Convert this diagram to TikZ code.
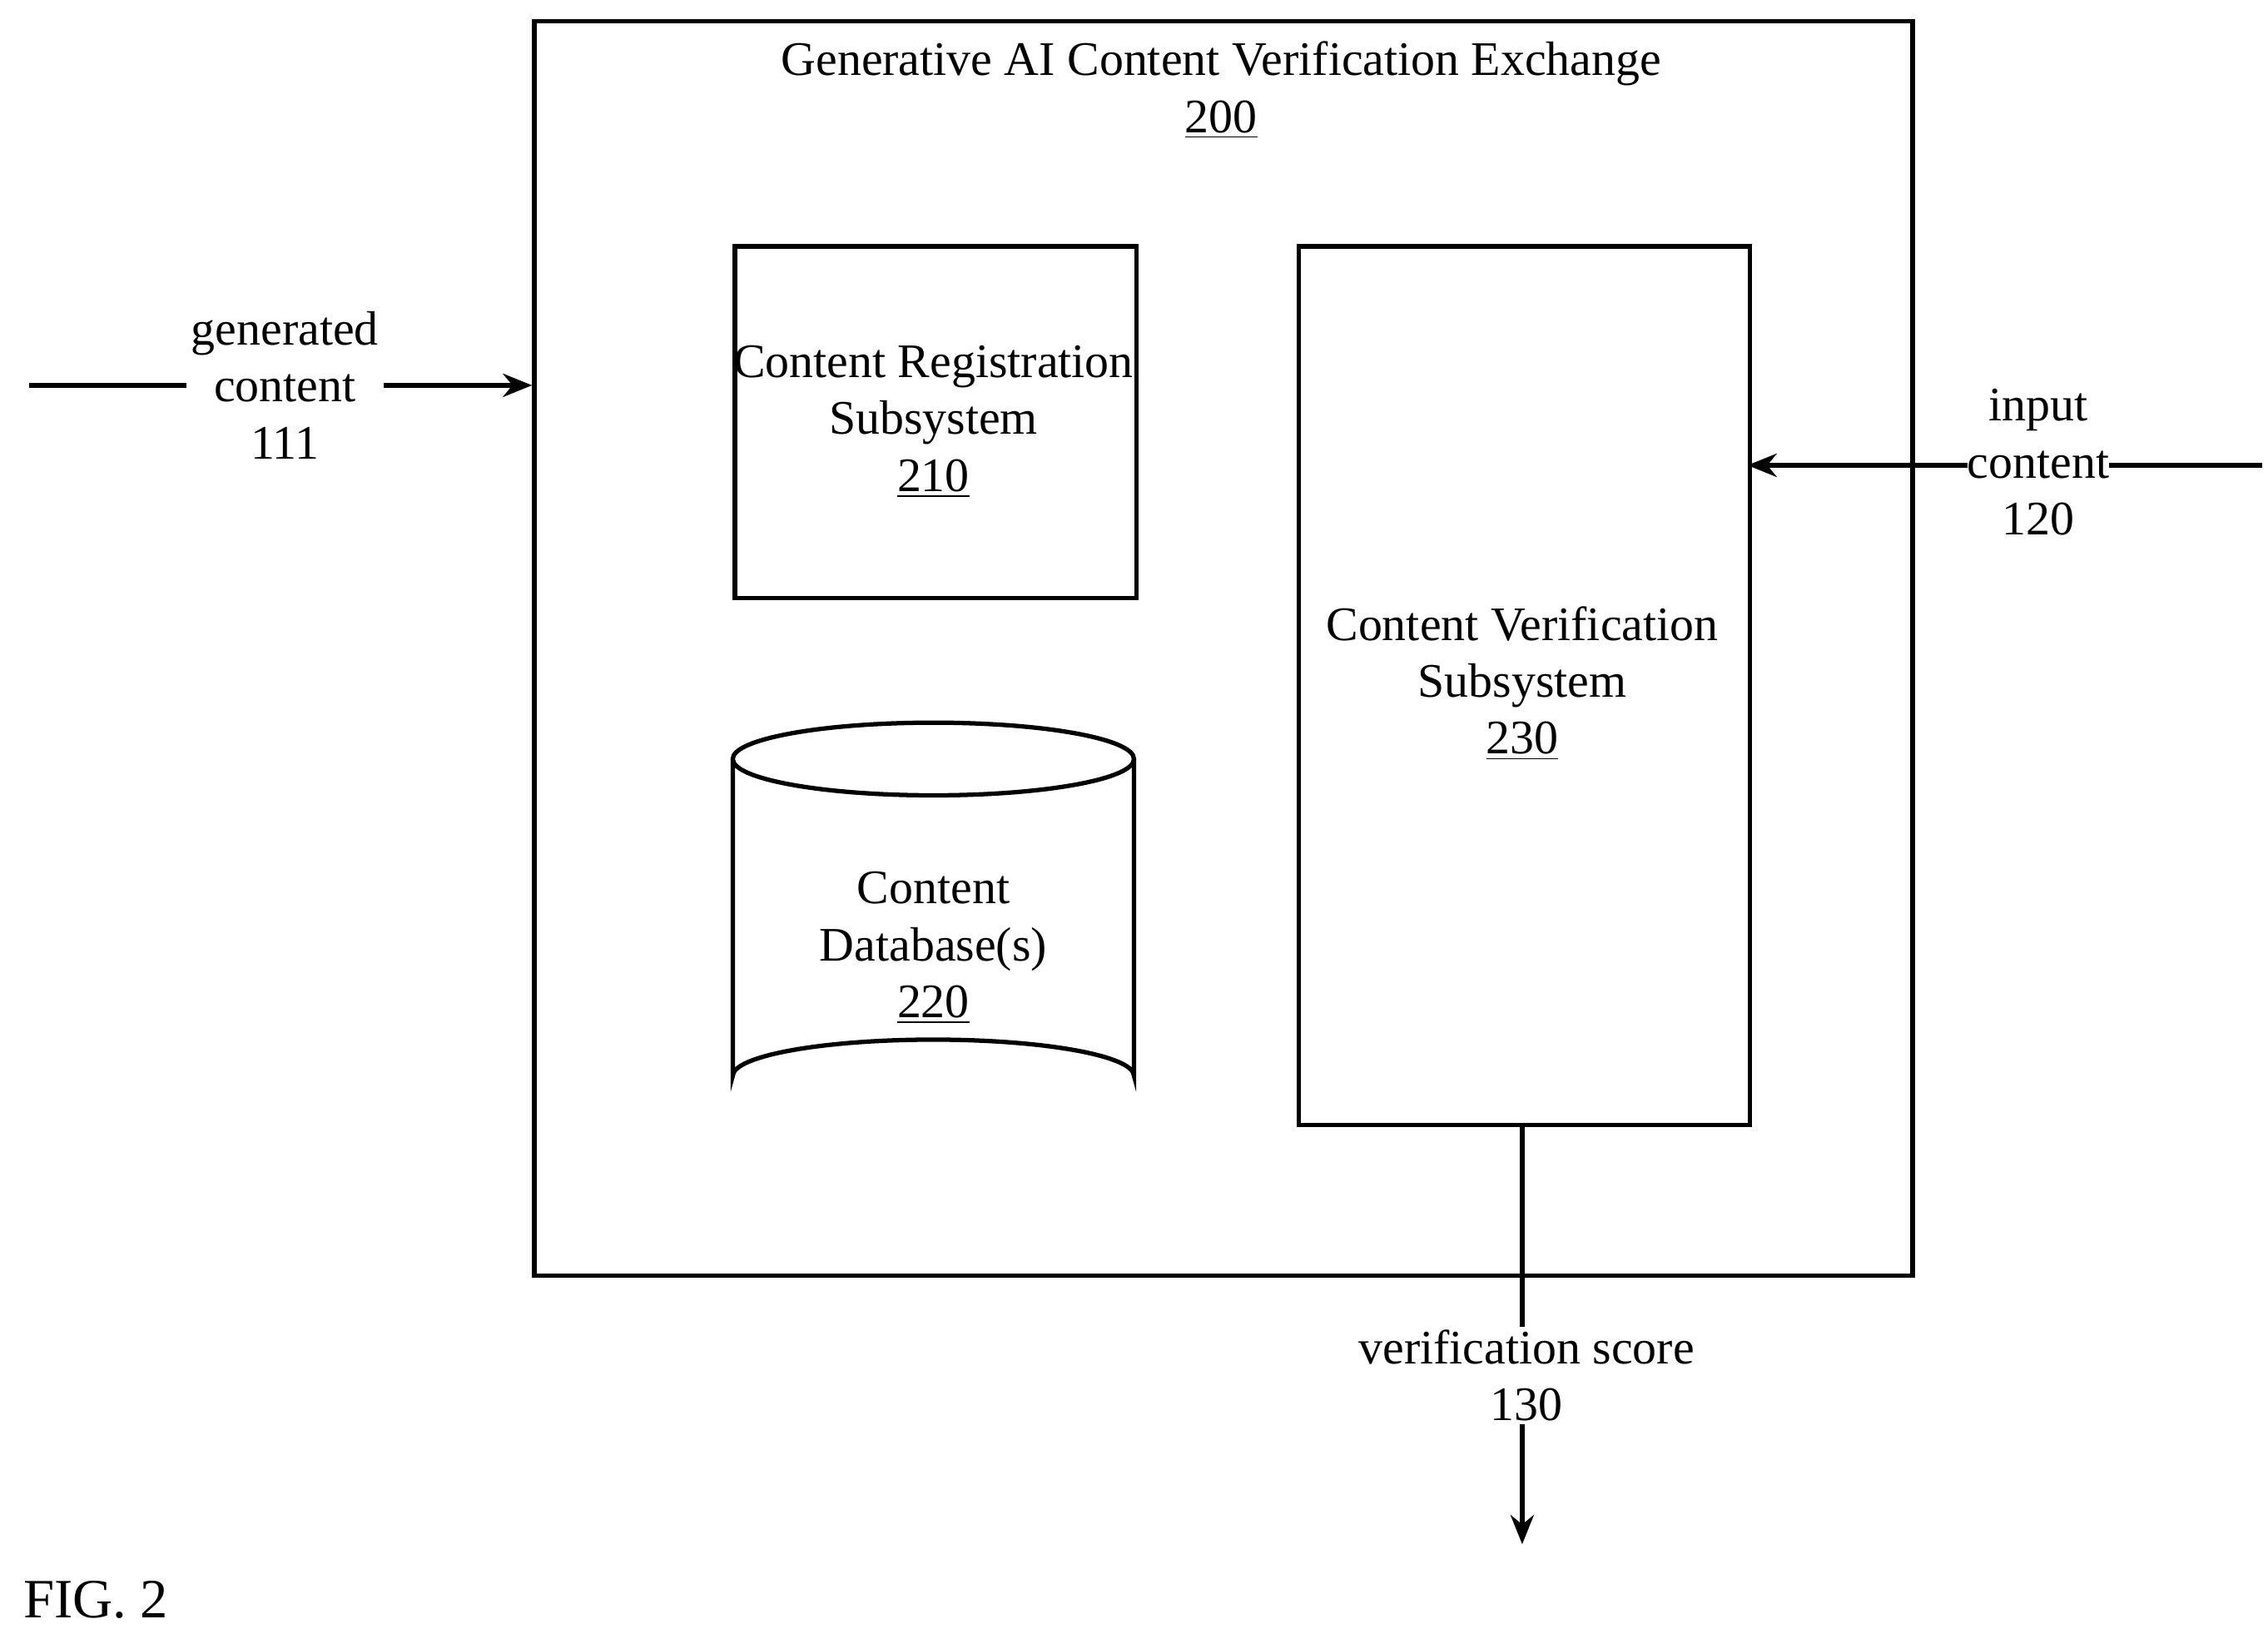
\documentclass[tikz,border=0pt]{standalone}
\usepackage{fontspec}
\setmainfont{Liberation Serif}
\usetikzlibrary{arrows.meta}
\begin{document}
\begin{tikzpicture}[x=0.0175cm,y=-0.0175cm,
  line width=1.5pt,
  txt/.style={font=\fontsize{16.5}{19.5}\selectfont,align=center,inner sep=1pt},
  arr/.style={-{Stealth[length=10pt,width=8pt]}}]
\useasboundingbox (0,0) rectangle (1560,1120);
\node[draw,minimum width=948*0.0175cm,minimum height=863*0.0175cm,anchor=north west] (ex) at (366,13) {};
\node[txt,anchor=center] (t200) at (840,62) {Generative AI Content Verification Exchange\\\underline{200}};
\node[draw,minimum width=276*0.0175cm,minimum height=242*0.0175cm,anchor=north west] (reg) at (504,168) {};
\node[txt] (treg) at (642,290) {Content Registration\\Subsystem\\\underline{210}};
\node[draw,minimum width=310*0.0175cm,minimum height=604*0.0175cm,anchor=north west] (ver) at (892,168) {};
\node[txt] (tver) at (1047,470) {Content Verification\\Subsystem\\\underline{230}};
% cylinder
\draw (504,522) -- (504,740) arc[start angle=180,end angle=360,x radius=138,y radius=25] -- (780,522);
\draw (642,522) ellipse[x radius=138,y radius=25];
\node[txt] (db) at (642,652) {Content\\Database(s)\\\underline{220}};
% generated content
\coordinate (gstart) at (20,265);
\node[txt,fill=white] (gc) at (196,265) {generated\\content\\111};
\draw (gstart) -- (gc.west |- gstart);
\draw[arr] (gc.east |- gstart) -- (ex.west |- gstart);
% input content
\coordinate (istart) at (1556,320);
\draw[arr] (istart) -- (1202,320);
\node[txt,fill=white,inner sep=0pt] (ic) at (1402,318) {input\\content\\120};
% verification score
\coordinate (vend) at (1047,1062);
\draw[arr] (1047,772) -- (vend);
\node[txt,fill=white] (vs) at (1050,946) {verification score\\130};
\node[txt,font=\fontsize{19}{22}\selectfont] (fig) at (66,1100) {FIG. 2};
\end{tikzpicture}
\end{document}
